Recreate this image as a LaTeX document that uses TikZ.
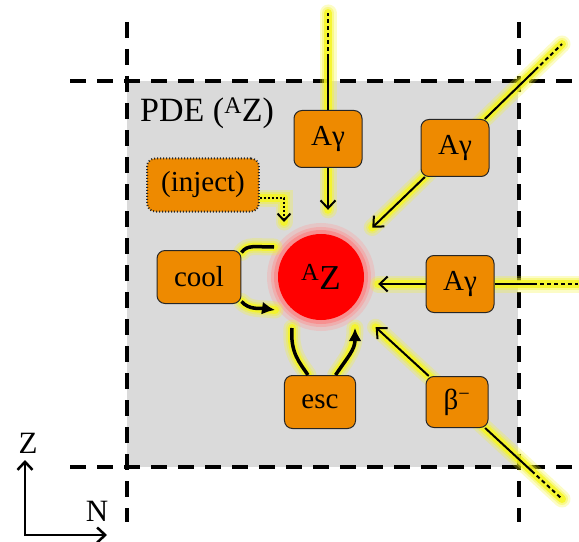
\documentclass[tikz,border=0pt]{standalone}
\usepackage{fontspec}
\setmainfont{Liberation Serif}
\usetikzlibrary{arrows.meta,positioning,calc,backgrounds}
\pgfdeclarelayer{glowlayer}
\pgfsetlayers{background,glowlayer,main}
\definecolor{boxorange}{RGB}{238,138,0}
\definecolor{regiongray}{RGB}{218,218,218}
\definecolor{glowyellow}{RGB}{246,246,30}

\begin{document}
\begin{tikzpicture}[x=1bp, y=-1bp,
  proc/.style={draw=black!85, fill=boxorange, rounded corners=8bp, line width=1bp, minimum height=53bp, inner xsep=17bp, font=\fontsize{29bp}{31bp}\selectfont},
  agbox/.style={proc, minimum width=68bp, minimum height=57bp},
  core/.style={circle, fill=red, minimum size=86bp, inner sep=0pt, font=\fontsize{35bp}{37bp}\selectfont},
  cellborder/.style={line width=4bp, dash pattern=on 16bp off 11bp},
  flux/.style={line width=2bp, -{Straight Barb[length=8bp, width=15bp]}},
  fluxext/.style={line width=2bp},
  fluxtail/.style={line width=2bp, dash pattern=on 4bp off 3bp},
  cyclearc/.style={line width=3.5bp},
  cyclein/.style={cyclearc, -{Latex[length=13bp, width=13bp]}},
  feed/.style={line width=2bp, dotted, -{Straight Barb[length=7bp, width=13bp]}},
  axis/.style={line width=2.5bp, {Straight Barb[length=8bp, width=15bp]}-{Straight Barb[length=8bp, width=15bp]}},
  glow/.style={draw=glowyellow, line width=8bp, opacity=0.8, line cap=round, line join=round,
    preaction={draw=glowyellow, line width=17bp, opacity=0.25, line cap=round},
    preaction={draw=glowyellow, line width=12bp, opacity=0.35, line cap=round}},
  axlabel/.style={font=\fontsize{31bp}{33bp}\selectfont, inner sep=0pt},
]
\useasboundingbox (0,0) rectangle (579,542);

% Region and cell borders
\begin{pgfonlayer}{background}
\fill[white] (0,0) rectangle (579,542);
\fill[regiongray] (127,81) rectangle (518,467);
\draw[cellborder] (127,22) -- (127,522);
\draw[cellborder] (519,22) -- (519,522);
\draw[cellborder] (70,81) -- (575,81);
\draw[cellborder] (70,467) -- (575,467);
\end{pgfonlayer}

% Title
\node[font=\fontsize{34bp}{36bp}\selectfont, inner sep=0pt, anchor=base west] (pdelabel) at (140,122) {PDE (\textsuperscript{A}Z)};

% Nucleus
\node[core] (nucleus) at (321,277) {\textsuperscript{A}Z};

% Processes
\node[agbox] (agtop) at (328,139) {Aγ};
\node[agbox] (agright) at (455,148) {Aγ};
\node[agbox] (agmid) at (460,284) {Aγ};
\node[proc, minimum width=62bp, minimum height=51bp] (beta) at (457,402) {β\textsuperscript{−}};
\node[proc] (cool) at (199,277) {cool};
\node[proc] (esc) at (320,402) {esc};
\node[proc, dotted, line width=2bp, inner xsep=14bp] (inject) at (203,185) {(inject)};

% Outer ends of the flux lines
\coordinate (topfar) at (328,13);
\coordinate (topmid) at (328,58);
\coordinate (urfar) at (562,44);
\coordinate (urmid) at ($(agright)!0.75!(urfar)$);
\coordinate (midfar) at (578,284);
\coordinate (midmid) at (533,284);
\coordinate (betafar) at (562,499);
\coordinate (betamid) at ($(beta)!0.71!(betafar)$);

% Glow under the connectors
\begin{pgfonlayer}{glowlayer}
\fill[red!40!white, opacity=0.3] (nucleus) circle[radius=54bp];
\fill[red!45!white, opacity=0.4] (nucleus) circle[radius=50bp];
\fill[red!55!white, opacity=0.5] (nucleus) circle[radius=47bp];
\draw[glow, shorten >=24bp] (topfar) -- (agtop |- nucleus.north);
\draw[glow, shorten >=28bp] (urfar) -- (nucleus);
\draw[glow, shorten >=14bp] (midfar) -- (agmid -| nucleus.east);
\draw[glow, shorten >=31bp] (betafar) -- (nucleus);
\draw[glow] (inject.-13) -| ($(nucleus)+(-37,-55)$);
\draw[glow] ($(nucleus)+(-47,-30)$) .. controls +(-20,0) and +(6,-8) .. (cool.30);
\draw[glow] (cool.-30) .. controls +(8,9) and +(-14,-2) .. ($(nucleus)+(-46,33)$);
\draw[glow] ($(nucleus)+(-29,51)$) .. controls +(-2,25) and +(-8,-12) .. (esc.114);
\draw[glow] (esc.60) .. controls +(12,-18) and +(0,22) .. ($(nucleus)+(34,51)$);
\end{pgfonlayer}

% Flux lines into the nucleus
\draw[flux, shorten >=24bp] (agtop) -- (agtop |- nucleus.north);
\draw[fluxext] (agtop) -- (topmid);
\draw[fluxtail] (topmid) -- (topfar);
\draw[flux, shorten >=28bp] (agright) -- (nucleus);
\draw[fluxext] (agright) -- (urmid);
\draw[fluxtail] (urmid) -- (urfar);
\draw[flux, shorten >=14bp] (agmid) -- (agmid -| nucleus.east);
\draw[fluxext] (agmid) -- (midmid);
\draw[fluxtail] (midmid) -- (midfar);
\draw[flux, shorten >=31bp] (beta) -- (nucleus);
\draw[fluxext] (beta) -- (betamid);
\draw[fluxtail] (betamid) -- (betafar);

% Injection
\draw[feed] (inject.-13) -| ($(nucleus)+(-37,-55)$);

% Cooling and escape cycles
\draw[cyclearc] ($(nucleus)+(-47,-30)$) .. controls +(-20,0) and +(6,-8) .. (cool.30);
\draw[cyclein] (cool.-30) .. controls +(8,9) and +(-14,-2) .. ($(nucleus)+(-46,33)$);
\draw[cyclearc] ($(nucleus)+(-29,51)$) .. controls +(-2,25) and +(-8,-12) .. (esc.114);
\draw[cyclein] (esc.60) .. controls +(12,-18) and +(0,22) .. ($(nucleus)+(34,51)$);

% Axes
\coordinate (axo) at (25,535);
\coordinate (zend) at (25,460);
\coordinate (nend) at (107,535);
\draw[axis] (zend) -- (axo) -- (nend);
\node[axlabel, anchor=base] (zlab) at (28,453) {Z};
\node[axlabel, anchor=base] (nlab) at (97,521) {N};

\end{tikzpicture}
\end{document}
